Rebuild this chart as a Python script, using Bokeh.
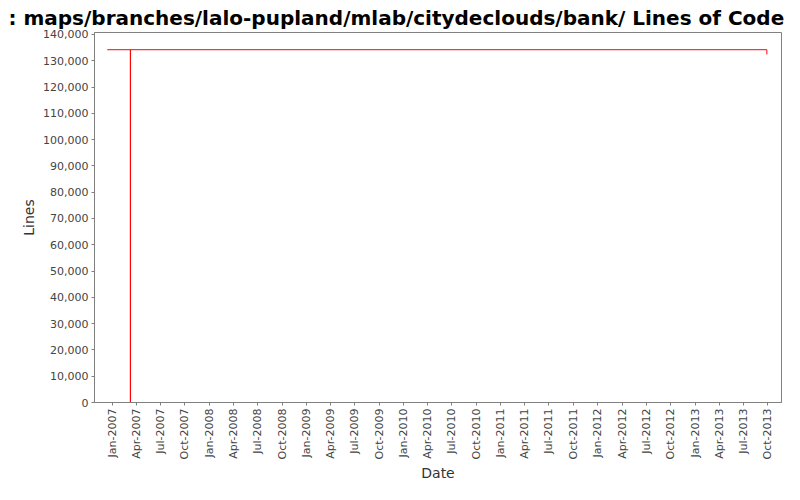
import math
from datetime import datetime
from bokeh.plotting import figure
from bokeh.models import FixedTicker, Range1d, NumeralTickFormatter
from bokeh.embed import file_html
from bokeh.resources import INLINE

# data (step series)
dates = ["2006-12-14", "2007-03-11", "2007-03-11", "2013-09-27"]
lines = [134200, 0, 134200, 132400]

tick_dates = ["2007-01-01", "2007-04-01", "2007-07-01", "2007-10-01",
              "2008-01-01", "2008-04-01", "2008-07-01", "2008-10-01",
              "2009-01-01", "2009-04-01", "2009-07-01", "2009-10-01",
              "2010-01-01", "2010-04-01", "2010-07-01", "2010-10-01",
              "2011-01-01", "2011-04-01", "2011-07-01", "2011-10-01",
              "2012-01-01", "2012-04-01", "2012-07-01", "2012-10-01",
              "2013-01-01", "2013-04-01", "2013-07-01", "2013-10-01"]
tick_labels = ["Jan-2007", "Apr-2007", "Jul-2007", "Oct-2007",
               "Jan-2008", "Apr-2008", "Jul-2008", "Oct-2008",
               "Jan-2009", "Apr-2009", "Jul-2009", "Oct-2009",
               "Jan-2010", "Apr-2010", "Jul-2010", "Oct-2010",
               "Jan-2011", "Apr-2011", "Jul-2011", "Oct-2011",
               "Jan-2012", "Apr-2012", "Jul-2012", "Oct-2012",
               "Jan-2013", "Apr-2013", "Jul-2013", "Oct-2013"]
y_ticks = list(range(0, 140001, 10000))

title = ": maps/branches/lalo-pupland/mlab/citydeclouds/bank/ Lines of Code"


def ms(s):
    return datetime.strptime(s, "%Y-%m-%d").timestamp() * 1000.0


xs = [ms(d) for d in dates]
tx = [ms(d) for d in tick_dates]

p = figure(width=784, height=484, output_backend="svg", toolbar_location=None,
           x_axis_type="datetime", title=title,
           min_border_left=94, min_border_right=3, min_border_top=0, min_border_bottom=0)
p.x_range = Range1d(ms("2006-10-27"), ms("2013-11-21"))
p.y_range = Range1d(0, 140750)

p.step(xs, lines, mode="after", line_color="#ff0000", line_width=1)

p.title.text_font = "DejaVu Sans"
p.title.text_font_style = "bold"
p.title.text_font_size = "20px"
p.title.align = "left"
p.title.offset = -86
p.title.standoff = 6
p.title.text_color = "#000000"

p.xaxis.ticker = FixedTicker(ticks=tx)
p.xaxis.major_label_overrides = {t: l for t, l in zip(tx, tick_labels)}
p.xaxis.major_label_orientation = math.pi / 2
p.yaxis.ticker = FixedTicker(ticks=y_ticks)
p.yaxis.formatter = NumeralTickFormatter(format="0,0")

for ax in (p.xaxis, p.yaxis):
    ax.axis_line_color = "#808080"
    ax.major_tick_line_color = "#808080"
    ax.major_tick_out = 3
    ax.major_tick_in = 0
    ax.minor_tick_line_color = None
    ax.major_label_text_font = "DejaVu Sans"
    ax.major_label_text_font_size = "11px"
    ax.major_label_text_color = "#444444"
    ax.major_label_standoff = 3
    ax.axis_label_text_font = "DejaVu Sans"
    ax.axis_label_text_font_size = "14px"
    ax.axis_label_text_font_style = "normal"
    ax.axis_label_text_color = "#333333"
    ax.axis_label_standoff = 3

p.xaxis.axis_label = "Date"
p.yaxis.axis_label = "Lines"

p.xgrid.grid_line_color = None
p.ygrid.grid_line_color = None
p.outline_line_color = "#808080"
p.outline_line_width = 1
p.background_fill_color = "#ffffff"

open("out.html", "w").write(file_html(p, INLINE))
